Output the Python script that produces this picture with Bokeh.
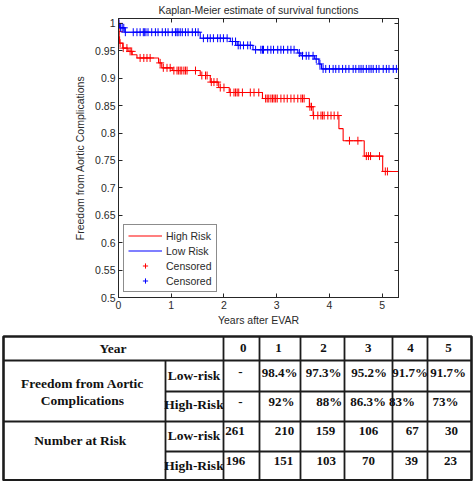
from bokeh.plotting import figure
from bokeh.models import Range1d, FixedTicker, LinearAxis, Legend, LegendItem
from bokeh.core.properties import value
from bokeh.embed import file_html
from bokeh.resources import INLINE
import numpy as np

# ---------------- data ----------------
title_text = "Kaplan-Meier estimate of survival functions"
x_label = "Years after EVAR"
y_label = "Freedom from Aortic Complications"

x_ticks = [0, 1, 2, 3, 4, 5]
x_tick_labels = ["0", "1", "2", "3", "4", "5"]
y_ticks = [0.5, 0.55, 0.6, 0.65, 0.7, 0.75, 0.8, 0.85, 0.9, 0.95, 1.0]
y_tick_labels = ["0.5", "0.55", "0.6", "0.65", "0.7", "0.75", "0.8", "0.85", "0.9", "0.95", "1"]

# High risk KM step function (time, survival after step)
high_t = [0, 0.005, 0.01, 0.02, 0.08, 0.18, 0.26, 0.35, 0.76, 0.82, 1.02, 1.55, 1.74, 1.90, 2.10,
          2.73, 3.62, 3.69, 4.18, 4.26, 4.66, 5.01, 5.31]
high_s = [1.0, 0.985, 0.976, 0.964, 0.955, 0.949, 0.943, 0.937, 0.928, 0.919, 0.914, 0.905, 0.893, 0.883, 0.874,
          0.863, 0.848, 0.832, 0.808, 0.786, 0.758, 0.730, 0.730]
high_cens = [0.003, 0.008, 0.03, 0.09, 0.16, 0.22, 0.25, 0.41, 0.48, 0.54, 0.60, 0.79, 0.85, 0.92, 0.98,
             1.05, 1.11, 1.14, 1.17, 1.20, 1.24, 1.27, 1.30, 1.46, 1.58, 1.65, 1.68, 1.76, 1.81, 1.87,
             1.93, 2.00, 2.12, 2.19, 2.22, 2.25, 2.28, 2.35, 2.50, 2.57, 2.66, 2.79, 2.82, 2.85, 2.89,
             2.92, 2.95, 2.98, 3.01, 3.08, 3.14, 3.20, 3.27, 3.33, 3.40, 3.46, 3.49, 3.52, 3.63, 3.66,
             3.70, 3.78, 3.84, 3.87, 3.90, 3.97, 4.03, 4.09, 4.16, 4.38, 4.54, 4.70, 4.74, 4.78, 4.95,
             5.06, 5.10]

# Low risk KM step function
low_t = [0, 0.02, 0.12, 1.55, 2.12, 2.25, 2.55, 3.40, 3.46, 3.72, 3.80, 3.85, 5.31]
low_s = [1.0, 0.992, 0.984, 0.973, 0.967, 0.960, 0.952, 0.946, 0.941, 0.935, 0.926, 0.917, 0.917]
low_cens = [0.01, 0.04, 0.07, 0.10, 0.13, 0.28, 0.35, 0.41, 0.47, 0.49, 0.52, 0.56, 0.63, 0.70, 0.75,
            0.83, 0.89, 0.94, 1.02, 1.08, 1.11, 1.13, 1.17, 1.21, 1.27, 1.32, 1.40, 1.46, 1.51, 1.61,
            1.69, 1.74, 1.80, 1.88, 1.93, 1.99, 2.06, 2.16, 2.22, 2.27, 2.31, 2.37, 2.45, 2.50, 2.60,
            2.70, 2.73, 2.75, 2.83, 2.89, 2.94, 3.02, 3.08, 3.13, 3.21, 3.27, 3.33, 3.43, 3.49, 3.56,
            3.61, 3.69, 3.75, 3.82, 3.88, 3.93, 4.00, 4.07, 4.12, 4.18, 4.25, 4.31, 4.37, 4.45, 4.50,
            4.56, 4.60, 4.64, 4.70, 4.75, 4.79, 4.83, 4.89, 4.94, 5.02, 5.08, 5.13, 5.21, 5.27]

# table
table_year_header = "Year"
table_group1 = ["Freedom from Aortic", "Complications"]
table_group2 = "Number at Risk"
table_rows = ["Low-risk", "High-Risk", "Low-risk", "High-Risk"]
years = ["0", "1", "2", "3", "4", "5"]
freedom_low = ["-", "98.4%", "97.3%", "95.2%", "91.7%", "91.7%"]
freedom_high = ["-", "92%", "88%", "86.3%", "83%", "73%"]
at_risk_low = [261, 210, 159, 106, 67, 30]
at_risk_high = [196, 151, 103, 70, 39, 23]


def step_value(ts, ss, x):
    idx = np.searchsorted(np.array(ts), np.array(x), side="right") - 1
    return [ss[i] for i in idx]

# ---------------- KM plot ----------------
FONT = "Liberation Sans"
TXT = "#2a2a2a"
RED = "#ff0000"
BLUE = "#0000ff"
p = figure(width=473, height=334, x_range=Range1d(0, 5.31), y_range=Range1d(0.5, 1.009),
           output_backend="svg", toolbar_location=None,
           min_border_left=118, min_border_right=75, min_border_top=17, min_border_bottom=37,
           x_axis_location=None, y_axis_location=None)
p.outline_line_color = "#262626"
p.xgrid.grid_line_color = None
p.ygrid.grid_line_color = None
p.background_fill_color = "white"


def make_axis(ticks, labels, show_labels, axis_label=None, label_standoff=3):
    ax = LinearAxis(ticker=FixedTicker(ticks=ticks))
    ax.major_tick_in = 4
    ax.major_tick_out = 0
    ax.minor_tick_in = 0
    ax.minor_tick_out = 0
    ax.axis_line_color = "#262626"
    ax.major_tick_line_color = "#262626"
    if show_labels:
        ax.major_label_overrides = dict(zip(ticks, labels))
        ax.major_label_text_font = FONT
        ax.major_label_text_font_size = "10.5px"
        ax.major_label_text_color = TXT
        ax.major_label_standoff = 3
    else:
        ax.major_label_text_font_size = "1px"
        ax.major_label_text_color = None
        ax.major_label_standoff = 0
    if axis_label:
        ax.axis_label = axis_label
        ax.axis_label_text_font = FONT
        ax.axis_label_text_font_size = "10.5px"
        ax.axis_label_text_font_style = "normal"
        ax.axis_label_text_color = TXT
        ax.axis_label_standoff = label_standoff
    return ax

p.add_layout(make_axis(x_ticks, x_tick_labels, True, x_label, 2), "below")
p.add_layout(make_axis(y_ticks, y_tick_labels, True, y_label, 6), "left")
p.add_layout(make_axis(x_ticks, x_tick_labels, False, title_text, 3), "above")
p.add_layout(make_axis(y_ticks, y_tick_labels, False), "right")

r_high = p.step(x=high_t, y=high_s, mode="after", line_color=RED, line_width=1.1)
r_low = p.step(x=low_t, y=low_s, mode="after", line_color=BLUE, line_width=1.1)
r_hc = p.scatter(x=high_cens, y=step_value(high_t, high_s, high_cens), marker="cross", size=8,
                 line_color=RED, fill_color=RED, line_width=1)
r_lc = p.scatter(x=low_cens, y=step_value(low_t, low_s, low_cens), marker="cross", size=8,
                 line_color=BLUE, fill_color=BLUE, line_width=1)

legend = Legend(items=[LegendItem(label="High Risk", renderers=[r_high]),
                       LegendItem(label="Low Risk", renderers=[r_low]),
                       LegendItem(label="Censored", renderers=[r_hc]),
                       LegendItem(label="Censored", renderers=[r_lc])],
                location=(5, 5))
legend.border_line_color = "#1a1a1a"
legend.border_line_width = 1
legend.label_text_font = FONT
legend.label_text_font_size = "10.5px"
legend.label_text_color = TXT
legend.glyph_width = 34
legend.glyph_height = 13
legend.label_height = 13
legend.spacing = 2
legend.padding = 4
legend.margin = 0
legend.label_standoff = 4
legend.background_fill_alpha = 1
p.add_layout(legend)

# ---------------- table ----------------
t = figure(width=473, height=147, x_range=Range1d(0, 473), y_range=Range1d(147, 0),
           output_backend="svg", toolbar_location=None, min_border=0,
           min_border_left=0, min_border_right=0, min_border_top=0, min_border_bottom=0,
           x_axis_location=None, y_axis_location=None)
t.outline_line_color = None
t.xgrid.grid_line_color = None
t.ygrid.grid_line_color = None

L, R, T, B = 3, 471, 2, 145.7
col_x = [165, 223, 259, 300, 344, 392, 427]
row_y = [26, 57, 87, 117]
LC = "#1c1c1c"

seg_x0 = [L, 165, L, 165, 165] + col_x[1:]
seg_x1 = [R, R, R, R, 165] + col_x[1:]
seg_y0 = [row_y[0], row_y[1], row_y[2], row_y[3], row_y[0]] + [T] * (len(col_x) - 1)
seg_y1 = [row_y[0], row_y[1], row_y[2], row_y[3], B] + [B] * (len(col_x) - 1)
t.segment(x0=seg_x0, y0=seg_y0, x1=seg_x1, y1=seg_y1, line_color=LC, line_width=1.8)
t.quad(left=[L], right=[R], top=[T], bottom=[B], fill_color=None, line_color=LC, line_width=2.6)

SERIF = value("Liberation Serif")
lbl_x = [112.5, 82, 82, 80, 193.5, 193.5, 193.5, 193.5]
lbl_y = [14, 48.7, 66, 106, 41, 70, 101, 131]
lbl_text = [table_year_header] + table_group1 + [table_group2] + table_rows
t.text(x=lbl_x, y=lbl_y, text=lbl_text, text_align="center", text_baseline="middle",
       text_font=SERIF, text_font_style="bold", text_font_size="13.5px", text_color="#111111")

hdr_x = [242.7, 278, 323, 367.7, 410, 448]
r1_x = [240, 279, 323, 368.5, 409.5, 447.5]
r2_x = [240, 281, 328.7, 367.7, 401.5, 445]
r3_x = [234.5, 284, 325, 368, 411.7, 451]
r4_x = [235, 283, 325.7, 368, 411, 450]
vals = (years + freedom_low + freedom_high
        + [str(v) for v in at_risk_low] + [str(v) for v in at_risk_high])
vx = hdr_x + r1_x + r2_x + r3_x + r4_x
vy = [13] * 6 + [37.5] * 6 + [67] * 6 + [96.5] * 6 + [126] * 6
t.text(x=vx, y=vy, text=vals, text_align="center", text_baseline="middle",
       text_font=SERIF, text_font_style="bold", text_font_size="13px", text_color="#111111")

open("out.html", "w").write(file_html([p, t], INLINE))
